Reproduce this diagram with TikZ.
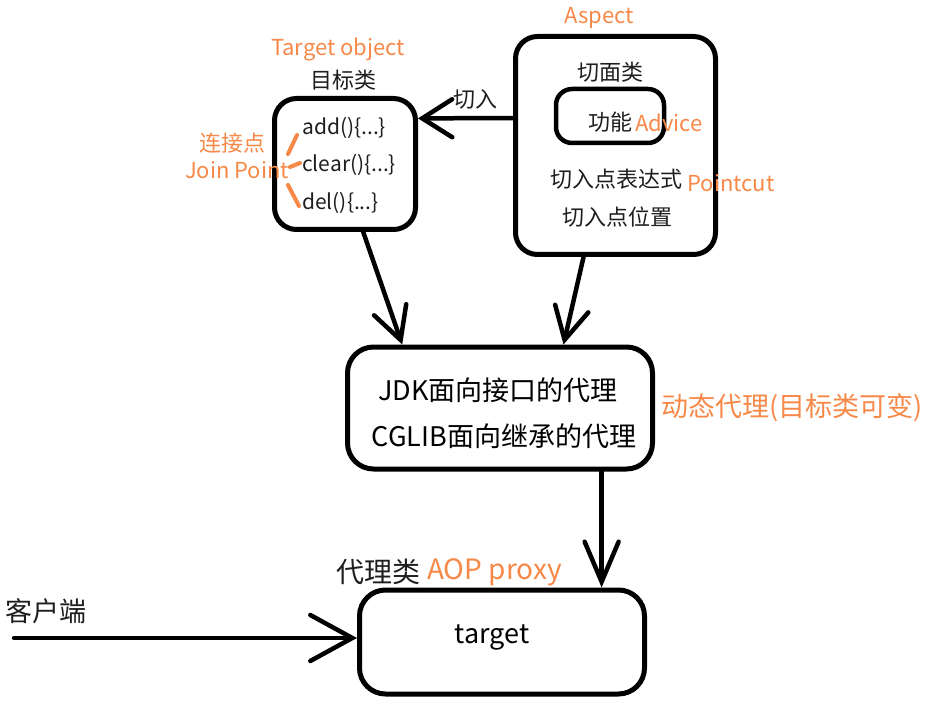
\documentclass[tikz,border=0pt]{standalone}
\usepackage{fontspec}
\setmainfont{Noto Sans CJK SC}
\usetikzlibrary{arrows.meta}
\definecolor{orng}{RGB}{247,137,72}
\definecolor{ink}{RGB}{30,30,30}
\tikzset{
  box/.style={draw=black,line width=5pt,rounded corners=22pt,inner sep=0pt},
  txt/.style={inner sep=0pt,text=ink,font=\fontsize{22pt}{26pt}\selectfont},
  otxt/.style={inner sep=0pt,text=orng,font=\fontsize{22pt}{26pt}\selectfont},
  bigtxt/.style={inner sep=0pt,text=black,font=\fontsize{27pt}{32pt}\selectfont},
  conn/.style={line width=4.5pt,line cap=round},
  jstroke/.style={draw=orng,line width=4pt,line cap=round}
}
\begin{document}
\begin{tikzpicture}[x=1pt,y=-1pt]
\useasboundingbox[fill=white] (0,0) rectangle (939,711);

% boxes
\node[box,minimum width=141pt,minimum height=131pt] (tgt) at (345,164) {};
\node[box,minimum width=200pt,minimum height=218pt] (asp) at (615.5,145.5) {};
\node[box,line width=4.5pt,rounded corners=16pt,minimum width=108pt,minimum height=54pt] (adv) at (610,116) {};
\node[box,rounded corners=26pt,minimum width=305pt,minimum height=122pt] (jdk) at (500,408) {};
\node[box,rounded corners=26pt,minimum width=285pt,minimum height=104pt] (prx) at (502,642) {};

% texts: target object
\node[otxt] (tolab) at (338,49) {Target object};
\node[txt] (tocn) at (343,80) {目标类};
\node[txt,anchor=west,font=\fontsize{21pt}{24pt}\selectfont] (m1) at (302,128) {add()\{...\}};
\node[txt,anchor=west,font=\fontsize{21pt}{24pt}\selectfont] (m2) at (302,165) {clear()\{...\}};
\node[txt,anchor=west,font=\fontsize{21pt}{24pt}\selectfont] (m3) at (302,203) {del()\{...\}};
\node[otxt] (jpcn) at (232,143) {连接点};
\node[otxt] (jpen) at (237,170) {Join Point};
\draw[jstroke] (297,135) -- (288,154);
\draw[jstroke] (290,167) -- (300,163);
\draw[jstroke] (288,185) -- (299,206);

% aspect
\node[otxt] (asplab) at (599,18) {Aspect};
\node[txt] (aspcn) at (610,72) {切面类};
\node[txt] (gn) at (610,122) {功能};
\node[otxt] (advlab) at (669,123) {Advice};
\node[txt] (pc1) at (616,179) {切入点表达式};
\node[otxt] (pclab) at (731,183) {Pointcut};
\node[txt] (pc2) at (617,217) {切入点位置};

% proxies
\node[bigtxt] (jdk1) at (498,390) {JDK面向接口的代理};
\node[bigtxt] (jdk2) at (504,436) {CGLIB面向继承的代理};
\node[otxt,font=\fontsize{27pt}{32pt}\selectfont] (dyn) at (792,408) {动态代理(目标类可变)};
\node[txt,font=\fontsize{28pt}{32pt}\selectfont,anchor=west] (prxcn) at (336,572) {代理类};
\node[otxt,font=\fontsize{28pt}{32pt}\selectfont,anchor=west] (prxen) at (427,572) {AOP proxy};
\node[txt,font=\fontsize{27pt}{32pt}\selectfont,text=black] (tg) at (492,637) {target};
\node[txt,font=\fontsize{27pt}{32pt}\selectfont] (cli) at (46,611) {客户端};
\coordinate (clistart) at (14,638);

% connectors
\draw[conn,-{Straight Barb[length=30pt,width=38pt,line cap=round]}] (asp.165) -- (tgt.32)
  node[pos=0.4,above=7pt,txt] (qr) {切入};
\draw[conn,-{Straight Barb[length=32pt,width=34pt,line cap=round]}] (tgt.-75) -- (jdk.147);
\draw[conn,-{Straight Barb[length=32pt,width=34pt,line cap=round]}] (asp.-106) -- (jdk.45);
\draw[conn,-{Straight Barb[length=40pt,width=34pt,line cap=round]}] (jdk.-32.3) -- (jdk.-32.3 |- prx.north);
\draw[conn,-{Straight Barb[length=42pt,width=46pt,line cap=round]}] (clistart) -- (clistart -| prx.west);
\end{tikzpicture}
\end{document}
